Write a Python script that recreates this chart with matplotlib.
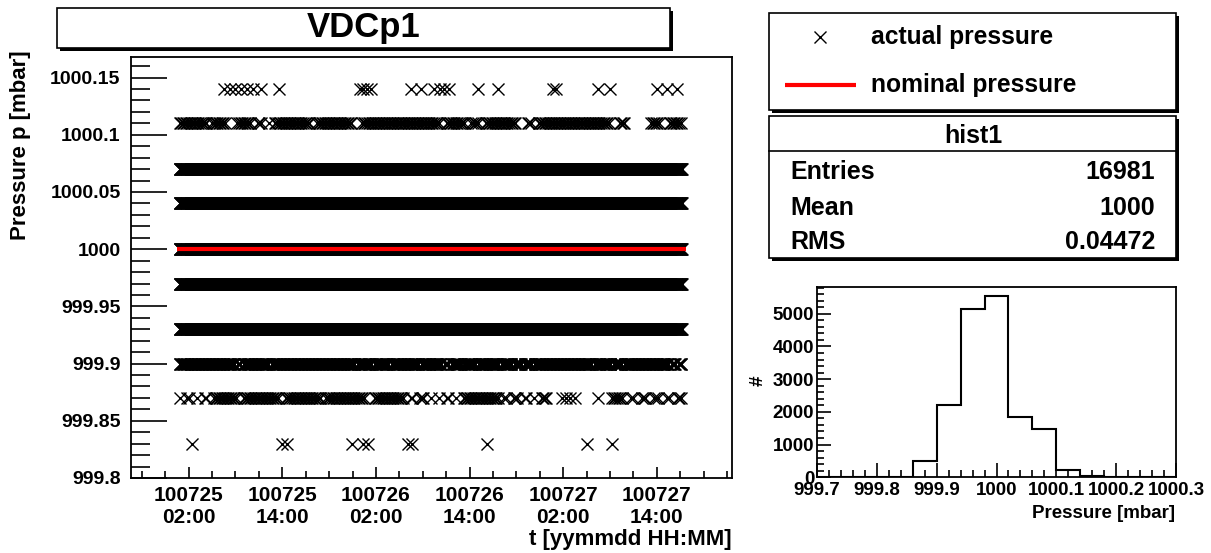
import numpy as np
import matplotlib
matplotlib.use("Agg")
import matplotlib.pyplot as plt
import matplotlib.dates as mdates
from matplotlib.patches import Rectangle
from matplotlib.lines import Line2D
from matplotlib.ticker import FixedLocator, MultipleLocator, FixedFormatter
import datetime as dt

plt.rcParams['font.family'] = ['Liberation Sans', 'DejaVu Sans']
plt.rcParams['font.weight'] = 'bold'

# ---------------- data ----------------
title = "VDCp1"
run_start = dt.datetime(2010, 7, 25, 0, 0)      # hours below are measured from this
run_span_h = (0.85, 65.2)                       # first / last reading
nominal_pressure = 1000.0
nominal_span_h = (0.55, 65.75)

# rows that are read continuously over the whole run (logging cadence in h)
solid_levels = [1000.07, 1000.04, 1000.00, 999.97, 999.93]
solid_step_h = 0.05

# textured rows: continuous, with short holes (centre h, width h)
level_1000_11 = 1000.11
step_1000_11_h = 0.2
gaps_1000_11 = [(4.7, 0.6), (7.1, 0.8), (7.8, 0.6), (10.4, 0.8), (11.7, 0.8), (12.7, 0.6),
                (17.9, 0.8), (23.6, 1.3), (34.6, 0.8), (37.8, 0.8), (39.5, 0.8), (44.7, 1.3),
                (46.4, 0.8), (56.5, 1.2), (58.6, 1.2), (59.6, 0.8), (60.5, 1.2), (63.0, 1.2)]

level_999_90 = 999.90
step_999_90_h = 0.1
gaps_999_90 = [(8.1, 0.4), (8.8, 0.4), (12.4, 0.4), (23.5, 0.4), (25.6, 0.4), (27.8, 0.4),
               (31.6, 0.4), (34.6, 0.4), (35.5, 0.4), (37.1, 0.4), (38.9, 0.4), (41.9, 0.4),
               (43.6, 0.4), (44.8, 0.4), (46.1, 0.4), (53.8, 0.4), (56.3, 0.4), (57.7, 0.4),
               (63.7, 0.4), (64.6, 0.4)]

level_999_87 = 999.87
step_999_87_h = 0.2
segments_999_87 = [(0.85, 47.9), (56.3, 65.2)]
gaps_999_87 = [(1.45, 0.8), (2.5, 0.8), (3.6, 0.8), (4.7, 0.8), (8.5, 0.8), (13.9, 0.8),
               (19.2, 0.6), (25.2, 1.3), (30.0, 0.8), (31.2, 0.8), (32.5, 0.8), (33.5, 0.8),
               (34.6, 0.8), (35.7, 0.8), (36.8, 0.8), (42.1, 0.5), (43.2, 0.8), (44.5, 0.8),
               (45.7, 0.8), (46.8, 0.8), (58.2, 1.0), (59.6, 1.0), (61.1, 1.0), (62.8, 1.0),
               (64.1, 1.0)]
single_999_87_h = [49.85, 50.35, 50.9, 51.5, 54.5]

# isolated readings
level_top = 1000.14
top_h = [6.58, 7.35, 7.99, 8.77, 9.54, 10.31, 11.33, 13.64, 23.91, 24.30, 24.81, 25.32,
         30.46, 31.74, 33.41, 34.18, 34.70, 35.34, 39.06, 41.63, 48.69, 49.08, 54.47,
         56.01, 62.05, 63.33, 64.61]
level_bottom = 999.83
bottom_h = [2.49, 14.02, 14.54, 22.88, 24.30, 24.94, 30.07, 30.58, 40.21, 53.05, 56.26]

# main axes
main_ylim = (999.8, 1000.168)
main_xlim_h = (-5.39, 71.6)
main_yticks = [999.8, 999.85, 999.9, 999.95, 1000.0, 1000.05, 1000.1, 1000.15]
main_yticklabels = ["999.8", "999.85", "999.9", "999.95", "1000", "1000.05", "1000.1", "1000.15"]
main_ylabel = "Pressure p [mbar]"
main_xlabel = "t [yymmdd HH:MM]"

# histogram
hist_edges = np.round(np.arange(999.70, 1000.30001, 0.04), 2)
hist_counts = [0, 0, 0, 15, 511, 2219, 5145, 5530, 1830, 1472, 225, 35, 0, 0, 0]
hist_xticks = [999.7, 999.8, 999.9, 1000.0, 1000.1, 1000.2, 1000.3]
hist_xticklabels = ["999.7", "999.8", "999.9", "1000", "1000.1", "1000.2", "1000.3"]
hist_yticks = [0, 1000, 2000, 3000, 4000, 5000]
hist_xlabel = "Pressure [mbar]"
hist_ylabel = "#"

legend_labels = ["actual pressure", "nominal pressure"]
stats_name = "hist1"
stats_keys = ["Entries", "Mean", "RMS"]
stats_values = ["16981", "1000", "0.04472"]

# ---------------- helpers ----------------
W, H = 1211, 553
def fx(px): return px / W
def fy(py): return 1 - py / H

def row_times(segments, gaps, step):
    t = np.concatenate([np.arange(s, e + 1e-9, step) for s, e in segments])
    keep = np.ones(len(t), bool)
    for c, w in gaps:
        keep &= np.abs(t - c) >= w / 2
    return t[keep]

base = mdates.date2num(run_start)
def tnum(h): return base + np.asarray(h, float) / 24.0

fig = plt.figure(figsize=(W / 100, H / 100), dpi=100)

def shadow_box(x0, y0, x1, y1, lw=1.2, off=3):
    fig.add_artist(Rectangle((fx(x0 + off), fy(y1 + off)), fx(x1 - x0), (y1 - y0) / H,
                             transform=fig.transFigure, facecolor='black', edgecolor='black', lw=0, zorder=1))
    fig.add_artist(Rectangle((fx(x0), fy(y1)), fx(x1 - x0), (y1 - y0) / H,
                             transform=fig.transFigure, facecolor='white', edgecolor='black', lw=lw, zorder=2))

MS, MEW = 8.6, 1.0

# ---------------- main graph ----------------
ax = fig.add_axes([fx(131), fy(478), fx(731.7 - 131), (478 - 57) / H])
rows = []
for lv in solid_levels:
    rows.append((row_times([run_span_h], [], solid_step_h), lv))
rows.append((row_times([run_span_h], gaps_1000_11, step_1000_11_h), level_1000_11))
rows.append((row_times([run_span_h], gaps_999_90, step_999_90_h), level_999_90))
rows.append((np.concatenate([row_times(segments_999_87, gaps_999_87, step_999_87_h),
                             single_999_87_h]), level_999_87))
rows.append((np.asarray(top_h), level_top))
rows.append((np.asarray(bottom_h), level_bottom))
all_t = np.concatenate([r[0] for r in rows])
all_p = np.concatenate([np.full(len(r[0]), r[1]) for r in rows])
ax.plot(tnum(all_t), all_p, linestyle='none', marker='x', ms=MS, mew=MEW, color='black', zorder=2)
ax.plot(tnum(nominal_span_h), [nominal_pressure, nominal_pressure], color='#ff0000', lw=3.0,
        solid_capstyle='butt', zorder=3)

ax.set_xlim(tnum(main_xlim_h[0]), tnum(main_xlim_h[1]))
ax.set_ylim(*main_ylim)
ax.xaxis.set_major_locator(mdates.HourLocator(byhour=[2, 14]))
ax.xaxis.set_minor_locator(mdates.HourLocator(byhour=[2, 5, 8, 11, 14, 17, 20, 23]))
ax.xaxis.set_major_formatter(mdates.DateFormatter('%y%m%d\n%H:%M'))
ax.yaxis.set_major_locator(FixedLocator(main_yticks))
ax.yaxis.set_major_formatter(FixedFormatter(main_yticklabels))
ax.yaxis.set_minor_locator(MultipleLocator(0.01))
ax.tick_params(axis='y', which='major', direction='in', length=26, width=1.2, labelsize=14, pad=7.5)
ax.tick_params(axis='y', which='minor', direction='in', length=14, width=1.2)
ax.tick_params(axis='x', which='major', direction='in', length=8, width=1.2, labelsize=15, pad=6)
ax.tick_params(axis='x', which='minor', direction='in', length=5, width=1.2)
for lab in ax.get_xticklabels() + ax.get_yticklabels():
    lab.set_fontweight('bold')
for s in ax.spines.values():
    s.set_linewidth(1.3)

fig.text(fx(21), fy(50), main_ylabel, rotation=90, ha='center', va='top', fontsize=16, fontweight='bold')
fig.text(fx(732), fy(540), main_xlabel, ha='right', va='center', fontsize=16, fontweight='bold')

# title box
shadow_box(57, 8, 670, 47.5)
fig.text(fx(363.5), fy(28), title, ha='center', va='center', fontsize=25, fontweight='bold', zorder=3)

# ---------------- legend ----------------
shadow_box(769, 12.7, 1176, 110)
fig.add_artist(Line2D([fx(820)], [fy(36.7)], transform=fig.transFigure, linestyle='none',
                      marker='x', ms=MS, mew=MEW, color='black', zorder=3))
fig.add_artist(Line2D([fx(785), fx(856)], [fy(85), fy(85)], transform=fig.transFigure,
                      color='#ff0000', lw=3.0, solid_capstyle='butt', zorder=3))
fig.text(fx(871), fy(36.7), legend_labels[0], ha='left', va='center', fontsize=17.7, fontweight='bold', zorder=3)
fig.text(fx(871), fy(85), legend_labels[1], ha='left', va='center', fontsize=17.7, fontweight='bold', zorder=3)

# ---------------- stats box ----------------
shadow_box(769, 115.7, 1176, 258)
fig.add_artist(Line2D([fx(769), fx(1176)], [fy(151), fy(151)], transform=fig.transFigure,
                      color='black', lw=1.2, zorder=3))
fig.text(fx(973), fy(136), stats_name, ha='center', va='center', fontsize=18, fontweight='bold', zorder=3)
for k, v, yy in zip(stats_keys, stats_values, [172, 208, 242]):
    fig.text(fx(790), fy(yy), k, ha='left', va='center', fontsize=18, fontweight='bold', zorder=3)
    fig.text(fx(1155), fy(yy), v, ha='right', va='center', fontsize=18, fontweight='bold', zorder=3)

# ---------------- histogram ----------------
ax2 = fig.add_axes([fx(817), fy(477.3), fx(1176 - 817), (477.3 - 287.3) / H])
ax2.stairs(hist_counts, hist_edges, color='black', lw=1.5, baseline=0)
ax2.set_xlim(hist_edges[0], hist_edges[-1])
ax2.set_ylim(0, 1.05 * max(hist_counts))
ax2.xaxis.set_major_locator(FixedLocator(hist_xticks))
ax2.xaxis.set_major_formatter(FixedFormatter(hist_xticklabels))
ax2.xaxis.set_minor_locator(MultipleLocator(0.02))
ax2.yaxis.set_major_locator(FixedLocator(hist_yticks))
ax2.yaxis.set_minor_locator(MultipleLocator(200))
ax2.tick_params(axis='x', which='major', direction='in', length=10, width=1.2, labelsize=13.5, pad=3.5)
ax2.tick_params(axis='y', which='major', direction='in', length=10, width=1.2, labelsize=13.5, pad=2)
ax2.tick_params(axis='both', which='minor', direction='in', length=5, width=1.2)
for lab in ax2.get_xticklabels() + ax2.get_yticklabels():
    lab.set_fontweight('bold')
for s in ax2.spines.values():
    s.set_linewidth(1.3)
fig.text(fx(1175), fy(514), hist_xlabel, ha='right', va='center', fontsize=13.5, fontweight='bold')
fig.text(fx(758), fy(381), hist_ylabel, ha='center', va='center', fontsize=13.5, fontweight='bold', rotation=90)

fig.savefig("out.png", dpi=100)
